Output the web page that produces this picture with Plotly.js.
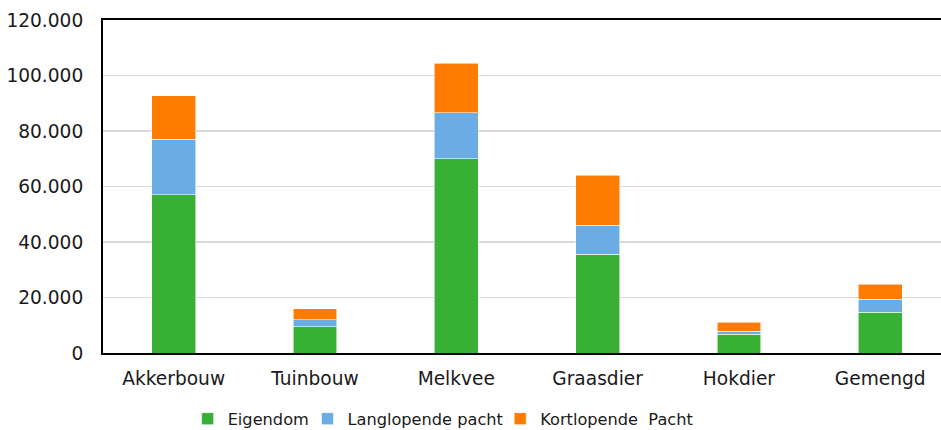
<!DOCTYPE html>
<html>
<head>
<meta charset="utf-8">
<script src="https://cdn.plot.ly/plotly-3.0.1.min.js"></script>
<style>
html,body{margin:0;padding:0;background:#fff;overflow:hidden;}
#chart{width:941px;height:430px;}
</style>
</head>
<body>
<div id="chart"></div>
<script>
var categories = ["Akkerbouw", "Tuinbouw", "Melkvee", "Graasdier", "Hokdier", "Gemengd"];
var eigendom = [57000, 9500, 70000, 35500, 6700, 14600];
var langlopende = [20000, 2500, 16500, 10500, 1200, 4700];
var kortlopende = [15700, 3900, 18000, 18100, 3100, 5500];
var seriesNames = ["Eigendom", "Langlopende pacht", "Kortlopende\u00a0 Pacht"];
var yTicks = [0, 20000, 40000, 60000, 80000, 100000, 120000];

var font = "DejaVu Sans, Verdana, sans-serif";
var colors = ["#37b034", "#6aace3", "#ff7c00"];
var seriesValues = [eigendom, langlopende, kortlopende];
var legendIds = ["legend", "legend2", "legend3"];
var legendX = [0.101, 0.244, 0.474];

var traces = seriesValues.map(function (vals, i) {
  return {
    type: "bar",
    name: seriesNames[i],
    legend: legendIds[i],
    x: categories,
    y: vals,
    width: 0.31,
    marker: { color: colors[i], line: { color: "rgba(255,255,255,0.7)", width: 0.8 } },
    hoverinfo: "skip"
  };
});

var layout = {
  width: 941,
  height: 430,
  barmode: "stack",
  separators: ",.",
  paper_bgcolor: "#fff",
  plot_bgcolor: "#fff",
  margin: { l: 103, r: 0, t: 20, b: 77, autoexpand: false },
  font: { family: font, size: 18, color: "#1a1a1a" },
  xaxis: {
    type: "category",
    range: [-0.5, 5.43],
    showline: true,
    linecolor: "#000",
    linewidth: 2,
    mirror: true,
    showgrid: false,
    zeroline: false,
    ticks: "",
    ticklabelstandoff: 8,
    tickfont: { family: font, size: 18.6, color: "#1a1a1a" }
  },
  yaxis: {
    range: [0, 120000],
    tickvals: yTicks,
    tickformat: ",d",
    showline: true,
    linecolor: "#000",
    linewidth: 2,
    showgrid: true,
    gridcolor: "#d9d9d9",
    gridwidth: 1.8,
    zeroline: false,
    ticks: "",
    ticklabelstandoff: 14,
    tickfont: { family: font, size: 18.6, color: "#1a1a1a" }
  },
  showlegend: true
};

legendIds.forEach(function (id, i) {
  layout[id] = {
    orientation: "h",
    x: legendX[i],
    xanchor: "left",
    y: -0.146,
    yanchor: "top",
    font: { family: font, size: 16.2, color: "#1a1a1a" },
    itemwidth: 30,
    bgcolor: "rgba(0,0,0,0)"
  };
});

Plotly.newPlot("chart", traces, layout, { displayModeBar: false, staticPlot: true });
</script>
</body>
</html>
